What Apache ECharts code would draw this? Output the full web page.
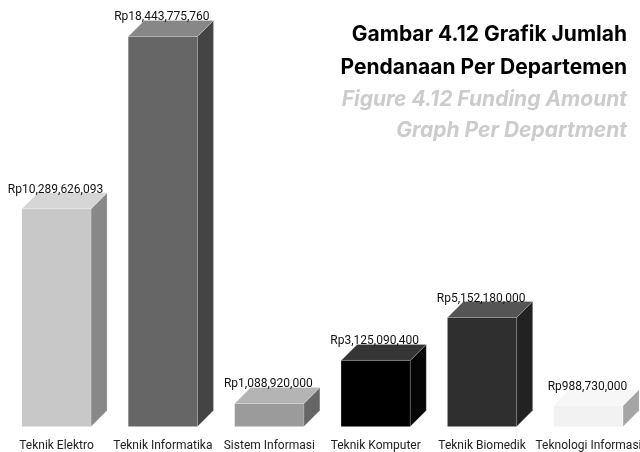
<!DOCTYPE html>
<html>
<head>
<meta charset="utf-8">
<script src="https://cdn.jsdelivr.net/npm/echarts@6/dist/echarts.min.js"></script>
<style>
  html, body { margin: 0; padding: 0; background: #fff; }
  #chart { width: 640px; height: 452px; }
</style>
</head>
<body>
<div id="chart"></div>
<script>
// departments and funding (Rupiah)
const departments = ['Teknik Elektro', 'Teknik Informatika', 'Sistem Informasi', 'Teknik Komputer', 'Teknik Biomedik', 'Teknologi Informasi'];
const funding = [10289626093, 18443775760, 1088920000, 3125090400, 5152180000, 988730000];

// title lines
const titleLines = ['Gambar 4.12 Grafik Jumlah', 'Pendanaan Per Departemen'];
const subtitleLines = ['Figure 4.12 Funding Amount', 'Graph Per Department'];

// face colours per bar: front, side, top
const frontColors = ['#c8c8c8', '#666666', '#9b9b9b', '#000000', '#2f2f2f', '#f2f2f2'];
const sideColors = ['#888888', '#444444', '#666666', '#050505', '#222222', '#a5a5a5'];
const topColors = ['#d6d6d6', '#878787', '#b4b4b4', '#353535', '#555555', '#f7f7f7'];

const chart = echarts.init(document.getElementById('chart'));

const DEPTH = 16;

function renderBar(params, api) {
  const i = params.dataIndex;
  const v = api.value(1);
  const topPt = api.coord([api.value(0), v]);
  const basePt = api.coord([api.value(0), 0]);
  const band = api.size([1, 0])[0];
  const w = band * 0.65;
  const x0 = topPt[0] - w / 2;
  const x1 = topPt[0] + w / 2;
  const yT = topPt[1];
  const yB = basePt[1];
  const edge = { stroke: 'rgba(255,255,255,0.35)', lineWidth: 0.6 };
  return {
    type: 'group',
    children: [
      {
        type: 'rect',
        shape: { x: x0, y: yT, width: w, height: yB - yT },
        style: { fill: frontColors[i] }
      },
      {
        type: 'polygon',
        shape: { points: [[x1, yT], [x1 + DEPTH, yT - DEPTH], [x1 + DEPTH, yB - DEPTH], [x1, yB]] },
        style: Object.assign({ fill: sideColors[i] }, edge)
      },
      {
        type: 'polygon',
        shape: { points: [[x0, yT], [x0 + DEPTH, yT - DEPTH], [x1 + DEPTH, yT - DEPTH], [x1, yT]] },
        style: Object.assign({ fill: topColors[i] }, edge)
      },
      {
        type: 'text',
        style: {
          text: 'Rp' + funding[i].toLocaleString('en-US'),
          x: topPt[0] - 1,
          y: yT - DEPTH + 3,
          align: 'center',
          verticalAlign: 'bottom',
          fontSize: 12,
          fontFamily: 'Roboto, sans-serif',
          fill: '#111'
        }
      }
    ]
  };
}

const titleText = (text, y, italic) => ({
  type: 'text',
  right: 13,
  top: y,
  z: 10,
  style: {
    text: text,
    font: (italic ? 'italic ' : '') + 'bold 21px Inter, sans-serif',
    fill: italic ? '#cccccc' : '#000000'
  }
});

const option = {
  backgroundColor: '#fff',
  animation: false,
  graphic: [
    titleText(titleLines[0], 24, false),
    titleText(titleLines[1], 57, false),
    titleText(subtitleLines[0], 89, true),
    titleText(subtitleLines[1], 120, true)
  ],
  grid: { left: 3.3, width: 638.4, top: 3.5, bottom: 25.5, outerBoundsMode: 'none' },
  xAxis: {
    type: 'category',
    data: departments,
    axisLine: { show: false },
    axisTick: { show: false },
    axisLabel: {
      interval: 0,
      margin: 13,
      fontSize: 12,
      fontFamily: 'Roboto, sans-serif',
      color: '#222'
    }
  },
  yAxis: { type: 'value', min: 0, max: 20000000000, show: false },
  series: [
    {
      type: 'custom',
      renderItem: renderBar,
      encode: { x: 0, y: 1 },
      data: funding.map((v, i) => [i, v]),
      clip: false
    }
  ]
};

chart.setOption(option);
window.addEventListener('resize', () => chart.resize());
</script>
</body>
</html>
